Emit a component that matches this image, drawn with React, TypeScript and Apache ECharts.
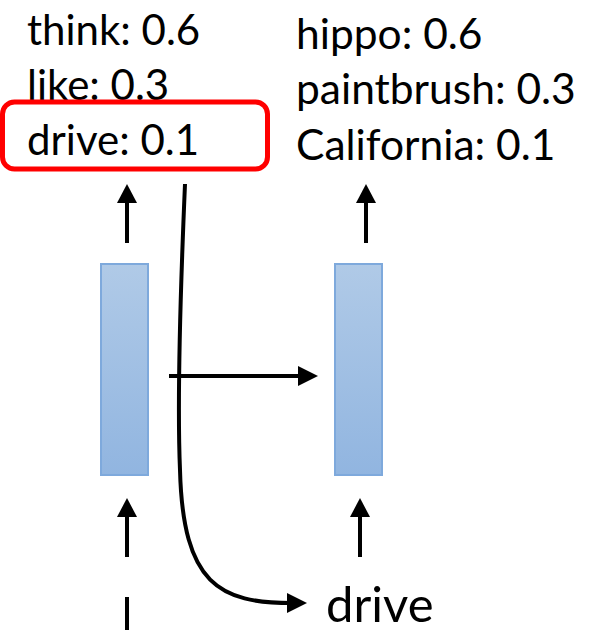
import React, { useEffect, useRef } from "react";
import * as echarts from "echarts";

const leftWords = ["think", "like", "drive"];
const leftProbs = [0.6, 0.3, 0.1];
const rightWords = ["hippo", "paintbrush", "California"];
const rightProbs = [0.6, 0.3, 0.1];
const inputWord = "drive";
const highlightIndex = 2;

const FONT = "Lato, 'Noto Sans', sans-serif";
const K = "#000000";

function upArrow(x: number, tip: number, bottom: number): any[] {
  return [
    { type: "line", shape: { x1: x, y1: bottom, x2: x, y2: tip + 14 }, style: { stroke: K, lineWidth: 4 } },
    { type: "polygon", shape: { points: [[x, tip], [x - 10, tip + 19], [x + 10, tip + 19]] }, style: { fill: K } },
  ];
}

export default function App() {
  const ref = useRef<HTMLDivElement>(null);
  useEffect(() => {
    if (!ref.current) return;
    const chart = echarts.init(ref.current, undefined, { renderer: "svg" });
    const fs = 42;
    const off = 7;
    const els: any[] = [];
    const leftBase = [43, 98, 153];
    const rightBase = [47, 102, 158];
    leftWords.forEach((w, i) => {
      els.push({
        type: "text",
        style: {
          x: 27, y: leftBase[i] + off, text: `${w}: ${leftProbs[i]}`, font: `${fs}px ${FONT}`,
          fill: K, align: "left", verticalAlign: "bottom",
        },
      });
    });
    rightWords.forEach((w, i) => {
      els.push({
        type: "text",
        style: {
          x: 296, y: rightBase[i] + off, text: `${w}: ${rightProbs[i]}`, font: `${fs + 0.5}px ${FONT}`,
          fill: K, align: "left", verticalAlign: "bottom",
        },
      });
    });
    // highlight box
    els.push({
      type: "rect",
      shape: { x: 2.5, y: 102 + (highlightIndex - 2) * 55, width: 265, height: 67, r: 12 },
      style: { fill: "none", stroke: "#ff0000", lineWidth: 5 },
    });
    // hidden-state boxes
    const grad = new echarts.graphic.LinearGradient(0, 0, 0, 1, [
      { offset: 0, color: "#b0cae7" },
      { offset: 1, color: "#91b5e0" },
    ]);
    [101, 335].forEach((x) => {
      els.push({
        type: "rect",
        shape: { x, y: 264, width: 47, height: 211 },
        style: { fill: grad, stroke: "#7ea9dc", lineWidth: 2 },
      });
    });
    // arrows
    els.push(...upArrow(127, 184, 243));
    els.push(...upArrow(366, 184, 243));
    els.push(...upArrow(127, 498, 557));
    els.push(...upArrow(360, 498, 557));
    els.push({ type: "line", shape: { x1: 127, y1: 597, x2: 127, y2: 640 }, style: { stroke: K, lineWidth: 4 } });
    // horizontal arrow
    els.push({ type: "line", shape: { x1: 169, y1: 376, x2: 302, y2: 376 }, style: { stroke: K, lineWidth: 4 } });
    els.push({ type: "polygon", shape: { points: [[318, 376], [298, 366], [298, 386]] }, style: { fill: K } });
    // curved arrow
    els.push({
      type: "bezierCurve",
      shape: { x1: 185, y1: 184, cpx1: 180, cpy1: 300, cpx2: 177, cpy2: 400, x2: 180, y2: 470 },
      style: { stroke: K, lineWidth: 4, fill: "none" },
    });
    els.push({
      type: "bezierCurve",
      shape: { x1: 180, y1: 470, cpx1: 183, cpy1: 585, cpx2: 220, cpy2: 603, x2: 292, y2: 603 },
      style: { stroke: K, lineWidth: 4, fill: "none" },
    });
    els.push({ type: "polygon", shape: { points: [[307, 603], [287, 593], [287, 613]] }, style: { fill: K } });
    els.push({
      type: "text",
      style: {
        x: 326, y: 627, text: inputWord, font: `49px ${FONT}`, fill: K, align: "left", verticalAlign: "bottom",
      },
    });

    chart.setOption({
      animation: false,
      backgroundColor: "#ffffff",
      graphic: { elements: els },
    });
    return () => chart.dispose();
  }, []);
  return <div ref={ref} style={{ position: "fixed", left: 0, top: 0, width: 600, height: 630 }} />;
}
